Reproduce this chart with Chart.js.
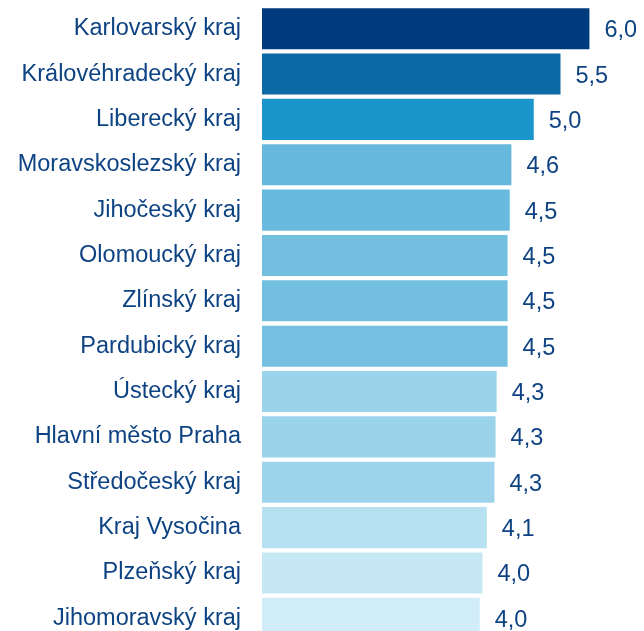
<!DOCTYPE html>
<html>
<head>
<meta charset="utf-8">
<script src="https://cdn.jsdelivr.net/npm/chart.js@4"></script>
<style>
    html, body { margin: 0; padding: 0; background: #fff; overflow: hidden; }
    #box { position: relative; width: 644px; height: 641px; }
</style>
</head>
<body>
<div id="box"><canvas id="chart"></canvas></div>
<script>
    'use strict'

    // kraje, serazene podle hodnoty
    var regions = [
        'Karlovarský kraj', 'Královéhradecký kraj', 'Liberecký kraj', 'Moravskoslezský kraj',
        'Jihočeský kraj', 'Olomoucký kraj', 'Zlínský kraj', 'Pardubický kraj',
        'Ústecký kraj', 'Hlavní město Praha', 'Středočeský kraj', 'Kraj Vysočina',
        'Plzeňský kraj', 'Jihomoravský kraj'
    ];
    var values = [6.0, 5.47, 4.98, 4.57, 4.54, 4.50, 4.50, 4.50, 4.30, 4.28, 4.26, 4.12, 4.04, 3.99];
    var barColors = [
        '#003c7d', '#0b69a6', '#1b96cd', '#66b8dc', '#68bade', '#72bfdf', '#72bfdf',
        '#75c0e0', '#9bd3ea', '#9bd3ea', '#9dd4eb', '#b7e1f1', '#c5e8f4', '#d1edf8'
    ];

    var textColor = '#0e4383';
    var fontFamily = '"Liberation Sans", Arial, sans-serif';
    var fontSize = 23.5;

    // hodnoty za koncem sloupce, s desetinnou carkou
    var valueLabels = {
        id: 'valueLabels',
        afterDatasetsDraw: function (chart) {
            var ctx = chart.ctx;
            var meta = chart.getDatasetMeta(0);
            ctx.save();
            ctx.font = fontSize + 'px ' + fontFamily;
            ctx.fillStyle = textColor;
            ctx.textAlign = 'left';
            ctx.textBaseline = 'middle';
            meta.data.forEach(function (bar, i) {
                var text = values[i].toFixed(1).replace('.', ',');
                ctx.fillText(text, bar.x + 15, bar.y + 2);
            });
            ctx.restore();
        }
    };

    new Chart(document.getElementById('chart'), {
        type: 'bar',
        data: {
            labels: regions,
            datasets: [{
                data: values,
                backgroundColor: barColors,
                borderWidth: 0,
                categoryPercentage: 1,
                barPercentage: 0.905
            }]
        },
        options: {
            indexAxis: 'y',
            responsive: true,
            maintainAspectRatio: false,
            animation: false,
            layout: { padding: { top: 6, right: 0, bottom: 0, left: 0 } },
            plugins: {
                legend: { display: false },
                tooltip: { enabled: false }
            },
            scales: {
                x: {
                    display: false,
                    min: 0,
                    max: 7
                },
                y: {
                    grid: { display: false, drawTicks: false },
                    border: { display: false },
                    ticks: {
                        color: textColor,
                        padding: 21,
                        font: { family: fontFamily, size: fontSize }
                    },
                    afterFit: function (scale) {
                        scale.width = 262;
                        scale.paddingTop = 0;
                        scale.paddingBottom = 0;
                    }
                }
            }
        },
        plugins: [valueLabels]
    });
</script>
</body>
</html>
